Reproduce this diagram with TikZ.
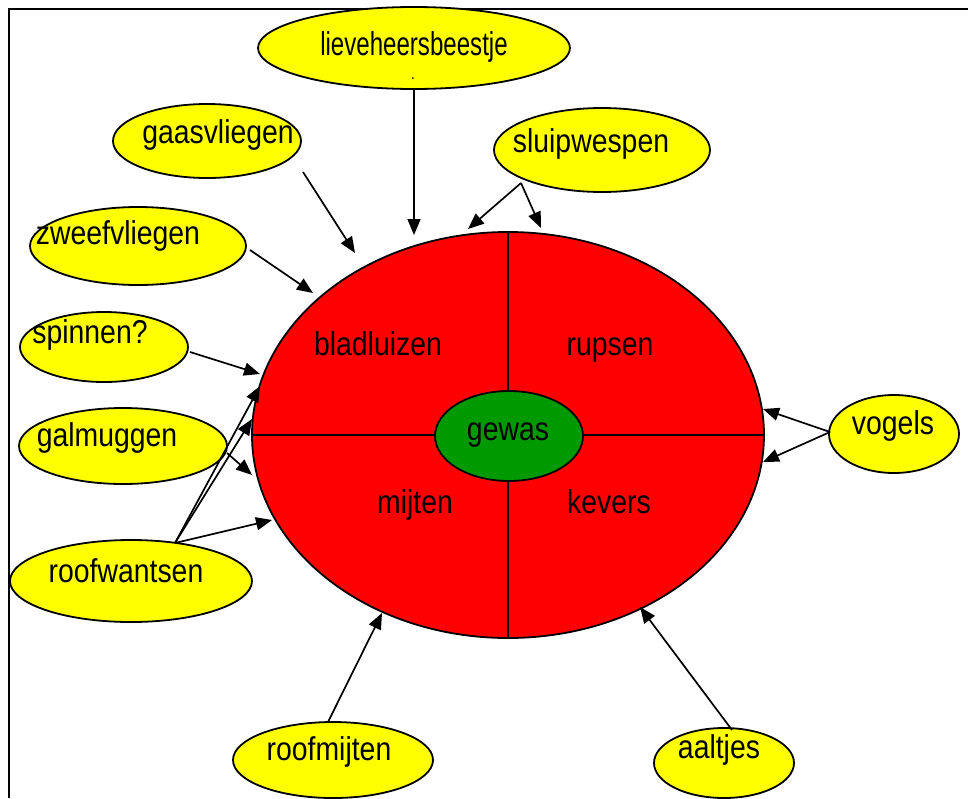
\documentclass[tikz,border=0pt]{standalone}
\usepackage{fontspec}
\setmainfont{Liberation Sans}[FakeStretch=0.86]
\newfontfamily\narrowfont{Liberation Sans}[FakeStretch=0.73]
\usetikzlibrary{shapes.geometric,arrows.meta}
\definecolor{pyellow}{RGB}{255,255,0}
\definecolor{pred}{RGB}{255,0,0}
\definecolor{pgreen}{RGB}{0,153,0}
\begin{document}
\begin{tikzpicture}[x=1pt,y=-1pt,
  bubble/.style={ellipse,draw=black,line width=1.8pt,fill=pyellow,inner sep=0pt},
  lbl/.style={anchor=base,inner sep=0pt,font=\fontsize{33}{38}\selectfont},
  arr/.style={line width=1.7pt,-{Triangle[length=16pt,width=13pt]}},
  divider/.style={line width=1.8pt}]
\useasboundingbox (0,0) rectangle (968,798);
% frame
\draw[line width=2.6pt] (9,798) -- (9,9) -- (968,9);
% central ellipse
\node[ellipse,draw=black,line width=1.8pt,fill=pred,minimum width=512pt,minimum height=406pt,inner sep=0pt] (main) at (508,435) {};
\draw[divider] (main.north) -- (main.south);
\draw[divider] (main.west) -- (main.east);
\node[ellipse,draw=black,line width=1.8pt,fill=pgreen,minimum width=148pt,minimum height=90pt,inner sep=0pt] (gewas) at (509,436) {};
\node[lbl] (tgewas) at (508,440) {gewas};
\node[lbl] (tblad) at (378,355) {bladluizen};
\node[lbl] (trups) at (610,355) {rupsen};
\node[lbl] (tmijt) at (415,513) {mijten};
\node[lbl] (tkev) at (609,513) {kevers};
% outer bubbles
\node[bubble,minimum width=312pt,minimum height=82pt] (lieve) at (414,48) {};
\node[lbl,font=\narrowfont\fontsize{33}{38}\selectfont] (tlieve) at (414,55) {lieveheersbeestje};
\node[anchor=base,inner sep=0pt,font=\fontsize{16}{18}\selectfont] (tdot) at (413,79) {.};
\node[bubble,minimum width=188pt,minimum height=74pt] (gaas) at (207,141) {};
\node[lbl] (tgaas) at (218,143) {gaasvliegen};
\node[bubble,minimum width=216pt,minimum height=84pt] (sluip) at (602,150) {};
\node[lbl] (tsluip) at (591,152) {sluipwespen};
\node[bubble,minimum width=216pt,minimum height=78pt] (zweef) at (138,246) {};
\node[lbl] (tzweef) at (118,244) {zweefvliegen};
\node[bubble,minimum width=168pt,minimum height=70pt] (spin) at (104,347) {};
\node[lbl] (tspin) at (90,343) {spinnen?};
\node[bubble,minimum width=208pt,minimum height=76pt] (galm) at (123,446) {};
\node[lbl] (tgalm) at (107,446) {galmuggen};
\node[bubble,minimum width=242pt,minimum height=82pt] (roofw) at (131,581) {};
\node[lbl] (troofw) at (126,582) {roofwantsen};
\node[bubble,minimum width=130pt,minimum height=78pt] (vogels) at (894,434) {};
\node[lbl] (tvog) at (893,434) {vogels};
\node[bubble,minimum width=200pt,minimum height=76pt] (roofm) at (333,760) {};
\node[lbl] (troofm) at (329,760) {roofmijten};
\node[bubble,minimum width=140pt,minimum height=70pt] (aal) at (724,763) {};
\node[lbl] (taal) at (719,758) {aaltjes};
% connector end points
\coordinate (s1) at (414,89);   \coordinate (e1) at (414,235);
\coordinate (s2) at (303,172);  \coordinate (e2) at (355,253);
\coordinate (s3) at (521,183);  \coordinate (e3a) at (468,229); \coordinate (e3b) at (541,228);
\coordinate (s4) at (250,250);  \coordinate (e4) at (313,293);
\coordinate (s5) at (190,352);  \coordinate (e5) at (260,374);
\coordinate (s6) at (227,453);  \coordinate (e6) at (252,475);
\coordinate (s7) at (175,543);  \coordinate (e7a) at (260,386); \coordinate (e7b) at (252,419); \coordinate (e7c) at (272,520);
\coordinate (s8) at (830,432);  \coordinate (e8a) at (763,409); \coordinate (e8b) at (763,462);
\coordinate (s9) at (328,722);  \coordinate (e9) at (382,613);
\coordinate (s10) at (732,730); \coordinate (e10) at (640,607);
\draw[arr] (s1) -- (e1);
\draw[arr] (s2) -- (e2);
\draw[arr] (s3) -- (e3a);
\draw[arr] (s3) -- (e3b);
\draw[arr] (s4) -- (e4);
\draw[arr] (s5) -- (e5);
\draw[arr] (s6) -- (e6);
\draw[arr] (s7) -- (e7a);
\draw[arr] (s7) -- (e7b);
\draw[arr] (s7) -- (e7c);
\draw[arr] (s8) -- (e8a);
\draw[arr] (s8) -- (e8b);
\draw[arr] (s9) -- (e9);
\draw[arr] (s10) -- (e10);
\end{tikzpicture}
\end{document}
